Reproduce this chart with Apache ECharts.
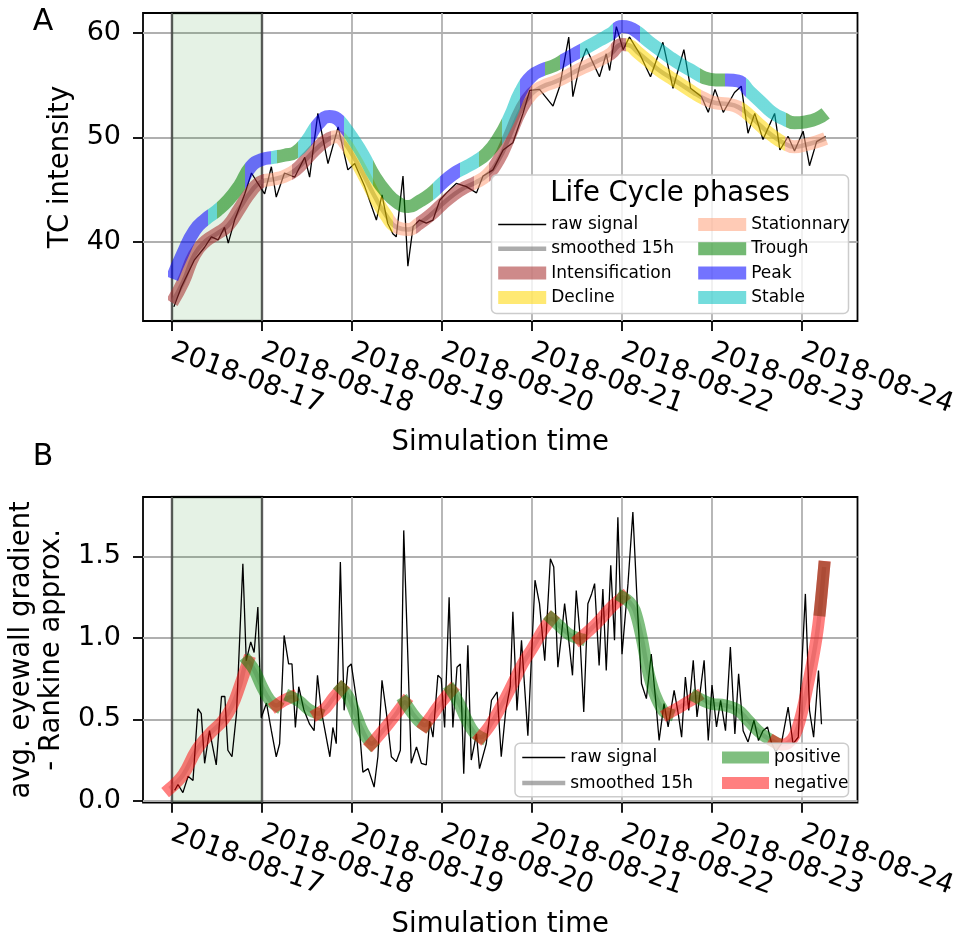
<!DOCTYPE html>
<html><head><meta charset="utf-8">
<script src="https://cdn.jsdelivr.net/npm/echarts@6/dist/echarts.min.js"></script>
<style>html,body{margin:0;padding:0;background:#fff}#c{width:953px;height:942px}</style>
</head><body><div id="c"></div>
<script>
// ---------- data (hours since 2018-08-17 00:00) ----------
const xTickHours = [0, 24, 48, 72, 96, 120, 144, 168];
const xTickLabels = ['2018-08-17','2018-08-18','2018-08-19','2018-08-20','2018-08-21','2018-08-22','2018-08-23','2018-08-24'];
const yTicksA = [40, 50, 60];
const yTicksB = [0, 0.5, 1.0, 1.5];
const spanHours = [0, 24];

const rawA = [[0.5,33.8],[2.5,35.7],[6,38.3],[8.7,39.5],[10.5,40.5],[12.3,40.2],[14,41.4],[15,39.9],[16.7,42.1],[19.4,44.6],[21.2,46.6],[22.9,45.6],[24.7,44.6],[26.5,47.2],[27.8,44.3],[30,46.6],[32.7,46.2],[35.4,48.1],[36.7,46.2],[38.9,52.3],[41.6,47.5],[44.3,51.0],[46.9,46.9],[48.7,47.5],[51.4,45.3],[54.5,42.1],[56,44.5],[57.5,41.8],[58.9,40.8],[59.8,40.5],[61.6,46.3],[62.9,37.7],[64.3,41.5],[66,42.1],[67.8,41.8],[69.6,42.1],[71.4,44.0],[73.2,44.7],[75.8,45.6],[78.5,45.3],[81.2,44.7],[82.9,46.3],[85.6,46.9],[88.3,48.8],[90.9,49.5],[93.6,52.3],[95.4,54.5],[98,54.6],[101.6,53.0],[103.4,54.9],[105.8,59.6],[106.9,53.9],[108.7,56.8],[110.5,58.5],[114,55.8],[115.8,58.0],[116.7,56.4],[118.5,60.6],[120.3,58.4],[122,59.6],[124.7,58.0],[127.6,55.8],[130.9,59.1],[133.6,54.7],[136.5,58.4],[138.3,54.7],[141.2,53.9],[143,52.4],[144.8,54.6],[147,52.4],[150,54.3],[151.8,54.9],[153.6,50.4],[155.4,52.3],[157.6,49.8],[160.7,52.3],[162.1,48.8],[164.3,50.1],[166,48.7],[168.3,50.6],[170,47.3],[171.9,49.6],[174.3,50.1]];

const smoothA = [[0,34.2],[3,36.2],[6,38.8],[9,40.1],[12,40.8],[15,41.6],[18,43.2],[21,44.8],[24,45.8],[27,46.0],[30,46.3],[33,46.9],[36,48.0],[39,49.1],[42,49.9],[44,50.1],[46,49.5],[48,48.4],[51,46.5],[54,44.4],[57,42.6],[60,41.4],[63,41.2],[66,41.8],[69,42.6],[72,43.6],[75,44.5],[78,45.2],[81,45.7],[84,46.4],[87,47.8],[90,50.1],[93,52.6],[96,54.2],[99,54.9],[102,55.3],[105,55.8],[108,56.4],[111,56.9],[114,57.4],[117,58.0],[120,58.9],[122,58.8],[124,58.2],[127,57.3],[130,56.4],[133,55.7],[136,55.0],[139,54.3],[142,53.7],[145,53.3],[148,53.2],[151,52.9],[154,52.1],[157,51.1],[160,50.2],[163,49.5],[166,49.1],[169,49.3],[172,49.6],[174.3,49.9]];

const upperA = [[0,36.5],[3,39.0],[6,41.1],[9,42.2],[12,43.0],[15,44.0],[18,45.4],[21,47.2],[24,47.9],[27,48.1],[30,48.3],[33,48.6],[36,49.7],[39,51.3],[42,52.0],[44,51.8],[46,51.0],[48,50.0],[51,48.3],[54,46.3],[57,44.8],[60,43.8],[63,43.4],[66,43.9],[69,44.6],[72,45.6],[75,46.5],[78,47.1],[81,47.7],[84,48.5],[87,49.9],[90,51.9],[93,54.4],[96,55.9],[99,56.5],[102,56.9],[105,57.5],[108,58.1],[111,58.7],[114,59.3],[117,59.9],[120,60.6],[122,60.5],[124,60.1],[127,59.2],[130,58.4],[133,57.6],[136,56.9],[139,56.3],[142,55.7],[145,55.5],[148,55.5],[151,55.4],[154,54.4],[157,53.4],[160,52.4],[163,51.8],[166,51.4],[169,51.5],[172,51.8],[174.3,52.3]];

const lowerPhasesA = [[-1,24.5,'Intensification'],[24.5,32,'Stationnary'],[32,42.5,'Intensification'],[42.5,46,'Stationnary'],[46,59,'Decline'],[59,65,'Stationnary'],[65,80.5,'Intensification'],[80.5,84.5,'Stationnary'],[84.5,96,'Intensification'],[96,117,'Stationnary'],[117,121,'Intensification'],[121,141,'Decline'],[141,152,'Stationnary'],[152,163.5,'Decline'],[163.5,176,'Stationnary']];

const upperPhasesA = [[-1,9.6,'Peak'],[9.6,12,'Stable'],[12,19.5,'Trough'],[19.5,26.5,'Peak'],[26.5,28,'Stable'],[28,33.6,'Trough'],[33.6,37,'Stable'],[37,46,'Peak'],[46,53.6,'Stable'],[53.6,69.6,'Trough'],[69.6,71.4,'Stable'],[71.4,76.7,'Peak'],[76.7,82,'Stable'],[82,88,'Trough'],[88,92.7,'Stable'],[92.7,99.5,'Peak'],[99.5,103.6,'Trough'],[103.6,108.7,'Peak'],[108.7,117.6,'Stable'],[117.6,124.7,'Peak'],[124.7,140.7,'Stable'],[140.7,147.5,'Trough'],[147.5,153.2,'Peak'],[153.2,163.8,'Stable'],[163.8,176,'Trough']];

const rawB = [[0.7,0.064],[1.6,0.10],[2.9,0.05],[4.3,0.15],[5.6,0.125],[6.9,0.565],[7.8,0.535],[8.7,0.23],[10,0.43],[11.8,0.22],[13.2,0.64],[14.1,0.64],[14.9,0.31],[16,0.27],[17.2,0.535],[18.9,1.455],[19.8,0.86],[21,0.975],[21.9,0.91],[22.9,1.19],[23.8,0.51],[25.2,0.60],[26.5,0.43],[27.8,0.27],[28.7,0.35],[29.9,1.015],[31.1,0.84],[32,0.84],[32.9,0.45],[33.8,0.70],[35.2,0.555],[36.7,0.47],[37.9,0.43],[38.8,0.77],[39.8,0.555],[42.1,0.27],[42.9,0.45],[43.8,0.35],[44.9,1.466],[45.9,0.555],[46.9,0.82],[47.8,0.84],[49.6,0.555],[50.9,0.176],[52.3,0.197],[53.9,0.084],[54.9,0.27],[56,0.74],[57.2,0.535],[58.5,0.27],[59.8,0.24],[60.9,0.31],[61.8,1.66],[62.9,0.88],[63.8,0.23],[65.2,0.33],[66.5,0.23],[67.8,0.22],[68.7,0.49],[69.6,0.39],[70.9,0.77],[71.8,0.75],[72.7,0.45],[73.9,1.25],[74.9,0.45],[76,0.82],[76.9,0.84],[77.8,0.166],[78.9,0.955],[79.8,0.25],[81.2,0.41],[82,0.197],[83.8,0.35],[85.2,0.617],[86.7,0.668],[87.8,0.27],[89,0.555],[90.2,0.70],[90.9,1.16],[92,0.555],[93.2,0.985],[94.9,0.40],[96.8,1.354],[98,1.21],[99.4,0.86],[100.9,1.486],[101.8,1.435],[102.9,0.82],[103.8,1.005],[104.7,1.21],[105.9,0.965],[106.8,0.77],[107.8,1.29],[108.7,1.047],[109.8,0.545],[110.9,1.21],[111.9,1.27],[112.7,1.333],[113.9,0.83],[114.9,1.30],[115.8,0.80],[117,1.446],[118,0.985],[118.9,1.74],[120,0.90],[121.6,1.333],[122.9,1.773],[124.1,1.19],[125.2,0.72],[126.5,0.627],[127.8,0.90],[128.9,0.637],[129.9,0.37],[131.2,0.596],[132.3,0.453],[133.9,0.678],[135,0.535],[135.9,0.39],[136.9,0.76],[137.8,0.555],[139,0.862],[140,0.514],[141.9,0.862],[143,0.37],[144,0.71],[145.2,0.453],[146.3,0.617],[147.6,0.43],[148.9,0.944],[150.1,0.41],[151.1,0.78],[152.3,0.43],[153.6,0.36],[155.2,0.494],[156.4,0.37],[157.6,0.43],[158.8,0.453],[159.8,0.36],[161,0.30],[162.5,0.35],[164.3,0.575],[165.6,0.35],[167,0.39],[168.9,1.27],[170,0.555],[171.1,0.39],[172.4,0.80],[173.2,0.47]];

const smoothB = [[-0.6,0.074],[3,0.16],[6.5,0.31],[10,0.41],[13.5,0.49],[16,0.58],[18,0.70],[20.3,0.855],[22,0.80],[24,0.70],[26,0.62],[27.8,0.585],[29.8,0.615],[31.8,0.637],[34,0.61],[36.5,0.56],[38.9,0.535],[41,0.57],[43,0.63],[45.2,0.69],[47,0.64],[49,0.53],[51,0.42],[53.2,0.35],[55.5,0.41],[58,0.48],[60,0.54],[62.1,0.605],[64,0.54],[65.8,0.49],[67.4,0.463],[69.5,0.53],[72,0.61],[74.5,0.678],[76.5,0.60],[78.5,0.50],[80.5,0.42],[82.3,0.39],[85,0.47],[88,0.59],[90.9,0.72],[93.5,0.84],[96.3,0.944],[99,1.05],[101.2,1.118],[103.5,1.07],[106,1.02],[108.7,0.995],[111.5,1.05],[114.5,1.12],[117.2,1.19],[120.2,1.25],[122,1.22],[123.4,1.17],[125.2,1.005],[126.9,0.80],[128.7,0.657],[130.9,0.555],[132.3,0.535],[135,0.57],[137.5,0.605],[139.8,0.637],[143.8,0.596],[147.4,0.586],[151,0.555],[153.6,0.494],[157.2,0.41],[160.7,0.36],[162.5,0.345],[164.3,0.355],[166,0.40],[167.5,0.50],[169,0.65],[170.5,0.82],[171.9,1.005],[172.8,1.17],[173.9,1.435]];

const segmentsB = [[-0.6,20.3,'negative'],[20.3,27.8,'positive'],[27.8,31.8,'negative'],[31.8,38.9,'positive'],[38.9,45.2,'negative'],[45.2,53.2,'positive'],[53.2,62.1,'negative'],[62.1,67.4,'positive'],[67.4,74.5,'negative'],[74.5,82.3,'positive'],[82.3,101.2,'negative'],[101.2,108.7,'positive'],[108.7,120.2,'negative'],[120.2,132.3,'positive'],[132.3,139.8,'negative'],[139.8,160.7,'positive'],[160.7,173.9,'negative']];
const overlapB = [172.8, 173.9];

// ---------- styles ----------
const FONT = 'DejaVu Sans';
const phaseColors = {Intensification:'#A52A2A', Decline:'#FFD700', Stationnary:'#FFA07A', Trough:'#008000', Peak:'#0000FF', Stable:'#00BFBF'};
const signColors = {positive:'#008000', negative:'#FF0000'};
const GRID_COLOR = '#b0b0b0';

function xAxisFor(i){
  return {
    type:'value', gridIndex:i, min:-7.73, max:182.8,
    axisLine:{show:false, onZero:false},
    axisTick:{show:true, length:10, lineStyle:{color:'#000', width:1.8}, customValues:xTickHours},
    axisLabel:{customValues:xTickHours, formatter:v=>xTickLabels[xTickHours.indexOf(v)], rotate:-20, margin:30,
      fontSize:27.5, fontFamily:FONT, color:'#000'},
    splitLine:{show:true, lineStyle:{color:GRID_COLOR, width:1.8}},
    name:'Simulation time', nameLocation:'middle', nameGap:108,
    nameTextStyle:{fontSize:27.5, fontFamily:FONT, color:'#000'}
  };
}
function yAxisFor(i, min, max, ticks, fmt, name, gap){
  return {
    type:'value', gridIndex:i, min:min, max:max,
    axisLine:{show:false, onZero:false},
    axisTick:{show:true, length:10, lineStyle:{color:'#000', width:1.8}, customValues:ticks},
    axisLabel:{customValues:ticks, formatter:fmt, margin:22, fontSize:27, fontFamily:FONT, color:'#000'},
    splitLine:{show:true, lineStyle:{color:GRID_COLOR, width:1.8}},
    name:name, nameLocation:'middle', nameGap:gap,
    nameTextStyle:{fontSize:27.5, fontFamily:FONT, color:'#000', lineHeight:30}
  };
}

const spanArea = {silent:true, itemStyle:{color:'rgba(0,128,0,0.1)', borderColor:'rgba(0,0,0,0.5)', borderWidth:2.5},
  data:[[{xAxis:spanHours[0]},{xAxis:spanHours[1]}]]};

const series = [];
series.push({name:'raw signal', type:'line', xAxisIndex:0, yAxisIndex:0, data:rawA, symbol:'none',
  lineStyle:{color:'#000', width:1.3}, z:3, markArea:spanArea});
series.push({name:'smoothed 15h', type:'line', xAxisIndex:0, yAxisIndex:0, data:smoothA, smooth:0.5, symbol:'none',
  lineStyle:{color:'#808080', width:4.5, opacity:0.65}, z:2});
const lowerIdx = series.length;
series.push({name:'lowerBand', type:'line', xAxisIndex:0, yAxisIndex:0, data:smoothA, smooth:0.5, symbol:'none',
  lineStyle:{width:13, opacity:0.55}, z:4});
const upperIdx = series.length;
series.push({name:'upperBand', type:'line', xAxisIndex:0, yAxisIndex:0, data:upperA, smooth:0.5, symbol:'none',
  lineStyle:{width:13, opacity:0.55}, z:4});
Object.keys(phaseColors).forEach(p=>{
  series.push({name:p, type:'line', xAxisIndex:0, yAxisIndex:0, data:[], symbol:'none',
    lineStyle:{color:phaseColors[p], width:13, opacity:0.55}});
});

series.push({name:'raw signal', type:'line', xAxisIndex:1, yAxisIndex:1, data:rawB, symbol:'none',
  lineStyle:{color:'#000', width:1.3}, z:3, markArea:spanArea});
series.push({name:'smoothed 15h', type:'line', xAxisIndex:1, yAxisIndex:1, data:smoothB, smooth:0.4, symbol:'none',
  lineStyle:{color:'#808080', width:4.5, opacity:0.3}, z:2});
segmentsB.forEach(s=>{
  const pts = smoothB.filter(d=>d[0]>=s[0]-1e-9 && d[0]<=s[1]+1e-9);
  series.push({name:s[2], type:'line', xAxisIndex:1, yAxisIndex:1, data:pts, smooth:0.4, symbol:'none',
    lineStyle:{color:signColors[s[2]], width:12, opacity:0.5, cap:'square'}, z:4});
});
series.push({name:'negative', type:'line', xAxisIndex:1, yAxisIndex:1,
  data:smoothB.filter(d=>d[0]>=overlapB[0]-1e-9 && d[0]<=overlapB[1]+1e-9), symbol:'none',
  lineStyle:{color:'#6b2a00', width:12, opacity:0.5, cap:'square'}, z:5});

function pieces(ph){ return ph.map(p=>({gte:p[0], lt:p[1], color:phaseColors[p[2]]})); }

const legendBase = {orient:'vertical', itemHeight:14, padding:0, selectedMode:false, z:20,
  textStyle:{fontSize:17, fontFamily:FONT, color:'#000', lineHeight:14},
  itemStyle:{opacity:0, borderWidth:0},
  lineStyle:{width:'inherit', cap:'butt'}};

const option = {
  animation:false,
  backgroundColor:'#fff',
  grid:[
    {left:143, top:13, width:714.5, height:308, show:true, borderColor:'#000', borderWidth:1.8, outerBoundsMode:'none'},
    {left:143, top:497, width:714.5, height:305.7, show:true, borderColor:'#000', borderWidth:1.8, outerBoundsMode:'none'}
  ],
  xAxis:[xAxisFor(0), xAxisFor(1)],
  yAxis:[
    yAxisFor(0, 32.45, 61.9, yTicksA, v=>String(v), 'TC intensity', 66),
    yAxisFor(1, -0.012, 1.865, yTicksB, v=>v.toFixed(1), 'avg. eyewall gradient\n- Rankine approx.', 74)
  ],
  visualMap:[
    {type:'piecewise', show:false, seriesIndex:lowerIdx, dimension:0, pieces:pieces(lowerPhasesA)},
    {type:'piecewise', show:false, seriesIndex:upperIdx, dimension:0, pieces:pieces(upperPhasesA)}
  ],
  legend:[
    Object.assign({}, legendBase, {data:['raw signal','smoothed 15h','Intensification','Decline'], left:491.7, top:216, itemWidth:48, itemGap:7.3}),
    Object.assign({}, legendBase, {data:['Stationnary','Trough','Peak','Stable'], left:691.7, top:216, itemWidth:48, itemGap:7.3}),
    Object.assign({}, legendBase, {data:['raw signal','smoothed 15h'], left:520, top:749, itemWidth:43, itemGap:8.6}),
    Object.assign({}, legendBase, {data:['positive','negative'], left:716, top:749, itemWidth:47, itemGap:8.6})
  ],
  graphic:{elements:[
    {type:'rect', z:15, silent:true, shape:{x:491.5, y:175, width:357, height:138.5, r:5},
      style:{fill:'rgba(255,255,255,0.8)', stroke:'#cccccc', lineWidth:1.5}},
    {type:'text', z:16, silent:true, x:670, y:194,
      style:{text:'Life Cycle phases', fontSize:27.5, fontFamily:FONT, fill:'#000', textAlign:'center', textVerticalAlign:'middle'}},
    {type:'rect', z:15, silent:true, shape:{x:515, y:743.3, width:333.5, height:53.5, r:5},
      style:{fill:'rgba(255,255,255,0.8)', stroke:'#cccccc', lineWidth:1.5}},
    {type:'text', silent:true, x:43, y:22,
      style:{text:'A', fontSize:30, fontFamily:FONT, fill:'#000', textAlign:'center', textVerticalAlign:'middle'}},
    {type:'text', silent:true, x:43, y:457,
      style:{text:'B', fontSize:30, fontFamily:FONT, fill:'#000', textAlign:'center', textVerticalAlign:'middle'}}
  ]},
  series:series
};

const chart = echarts.init(document.getElementById('c'), null, {renderer:'canvas'});
chart.setOption(option);
</script>
</body></html>
